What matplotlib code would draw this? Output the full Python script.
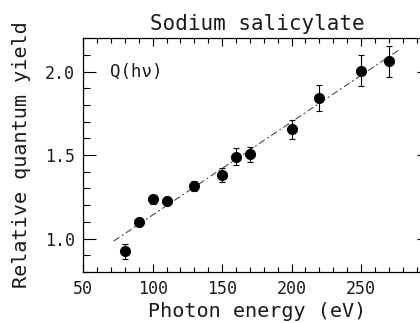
import matplotlib
matplotlib.use("Agg")
import matplotlib.pyplot as plt
from matplotlib.ticker import MultipleLocator

# photon energy (eV), relative quantum yield and error bars
energy = [80, 90, 100, 110, 130, 150, 160, 170, 200, 220, 250, 270]
qyield = [0.923, 1.097, 1.236, 1.226, 1.317, 1.381, 1.490, 1.504, 1.653, 1.843, 2.006, 2.060]
yerr = [0.046, 0.023, 0.027, 0.025, 0.030, 0.040, 0.050, 0.045, 0.055, 0.077, 0.090, 0.090]

# linear fit line end points
fit_x = [72, 278]
fit_y = [0.985, 2.133]

plt.rcParams['font.family'] = ['DejaVu Sans Mono', 'DejaVu Sans']
txt = '#1a1a1a'

fig = plt.figure(figsize=(4.2, 3.23), dpi=100)
ax = fig.add_axes([0.198, 0.158, 0.827, 0.724])

ax.plot(fit_x, fit_y, color='#333333', lw=0.7, linestyle=(0, (7, 3, 2, 3)))
ax.errorbar(energy, qyield, yerr=yerr, fmt='o', color='black', ms=7,
            elinewidth=0.8, capsize=2, capthick=0.8)

ax.set_xlim(50, 300)
ax.set_ylim(0.8, 2.2)
ax.yaxis.set_major_locator(MultipleLocator(0.5))
ax.yaxis.set_minor_locator(MultipleLocator(0.1))
ax.set_xticks([50, 100, 150, 200, 250])
ax.set_xticks(range(50, 301, 10), minor=True)

ax.tick_params(axis='x', which='both', direction='in', top=True, bottom=True,
               labelsize=12, pad=6, width=0.8, labelcolor=txt)
ax.tick_params(axis='x', which='major', length=6)
ax.tick_params(axis='x', which='minor', length=3.5)
ax.tick_params(axis='y', which='both', direction='in', left=True, right=True,
               labelsize=12, pad=6, width=0.8, labelcolor=txt)
ax.tick_params(axis='y', which='major', length=9.5)
ax.tick_params(axis='y', which='minor', length=5, right=False)
for s in ax.spines.values():
    s.set_linewidth(0.9)

ax.set_title('Sodium salicylate', fontsize=15, pad=6, color=txt)
ax.set_xlabel('Photon energy (eV)', fontsize=14.5, labelpad=3, color=txt)
ax.set_ylabel('Relative quantum yield', fontsize=14.5, labelpad=10, color=txt)
ax.text(69.5, 2.0, 'Q(hν)', fontsize=12.5, va='center', ha='left', color=txt)

fig.savefig('out.png', dpi=100)
